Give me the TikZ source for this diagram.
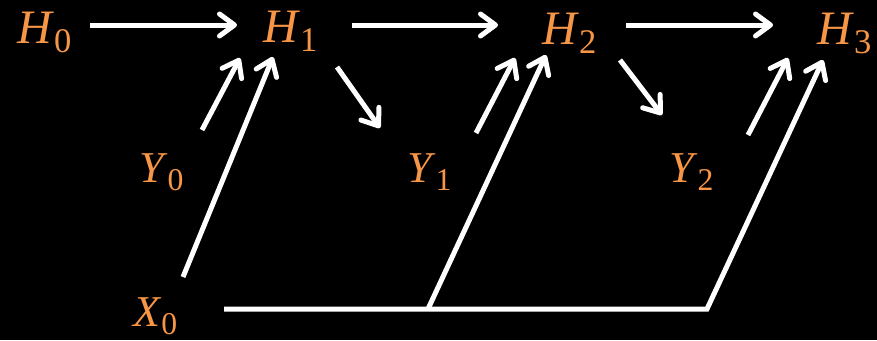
\documentclass[tikz,border=0pt]{standalone}
\usepackage{fontspec}
\usepackage{graphicx}
\usepackage{tikz}
\usetikzlibrary{arrows.meta}
\newfontfamily\labelfont{Liberation Serif}
\definecolor{varorange}{RGB}{247,150,70}
\newcommand{\rvar}[2]{\textit{#1}\raisebox{-0.19em}{\scalebox{0.72}{#2}}}

\begin{document}
\begin{tikzpicture}[
    x=1pt, y=-1pt,
    var/.style={inner sep=0pt, anchor=base west, text=varorange, font=\labelfont\fontsize{48}{52}\selectfont},
    outvar/.style={var, font=\labelfont\fontsize{44}{48}\selectfont},
    wire/.style={draw=white, line width=5pt},
    arrow/.style={wire, -{Straight Barb[length=15pt, width=22pt, round]}}
]
\fill[black] (0,0) rectangle (877,340);
\useasboundingbox (0,0) rectangle (877,340);

% hidden states
\node[var] (h0) at (17,43) {\rvar{H}{0}};
\node[var] (h1) at (263,42) {\rvar{H}{1}};
\node[var] (h2) at (542,44) {\rvar{H}{2}};
\node[var] (h3) at (817,44) {\rvar{H}{3}};
% outputs and input
\node[outvar] (y0) at (139,182) {\rvar{Y}{0}};
\node[outvar] (y1) at (407,182) {\rvar{Y}{1}};
\node[outvar] (y2) at (669,182) {\rvar{Y}{2}};
\node[outvar] (x0) at (133,326) {\rvar{X}{0}};

\coordinate (b1) at (428,309);
\coordinate (b2) at (707,309);

% chain
\draw[arrow] ([shift={(73,-18)}]h0.base west) -- ([shift={(-26,-17)}]h1.base west);
\draw[arrow] ([shift={(89,-17)}]h1.base west) -- ([shift={(-44,-19)}]h2.base west);
\draw[arrow] ([shift={(84,-19)}]h2.base west) -- ([shift={(-44,-19)}]h3.base west);
\draw[arrow] ([shift={(74,25)}]h1.base west) -- ([shift={(-27,-54)}]y1.base west);
\draw[arrow] ([shift={(78,16)}]h2.base west) -- ([shift={(-7,-67)}]y2.base west);

% feedback of outputs
\draw[arrow] ([shift={(63,-52)}]y0.base west) -- ([shift={(-23,16)}]h1.base west);
\draw[arrow] ([shift={(69,-49)}]y1.base west) -- ([shift={(-27,14)}]h2.base west);
\draw[arrow] ([shift={(79,-47)}]y2.base west) -- ([shift={(-29,14)}]h3.base west);

% input fed to every step
\draw[arrow] ([shift={(50,-49)}]x0.base west) -- ([shift={(10,15)}]h1.base west);
\draw[arrow] ([shift={(91,-17)}]x0.base west) -- (b2) -- ([shift={(6,16)}]h3.base west);
\draw[arrow] (b1) -- ([shift={(4,11)}]h2.base west);
\end{tikzpicture}
\end{document}
